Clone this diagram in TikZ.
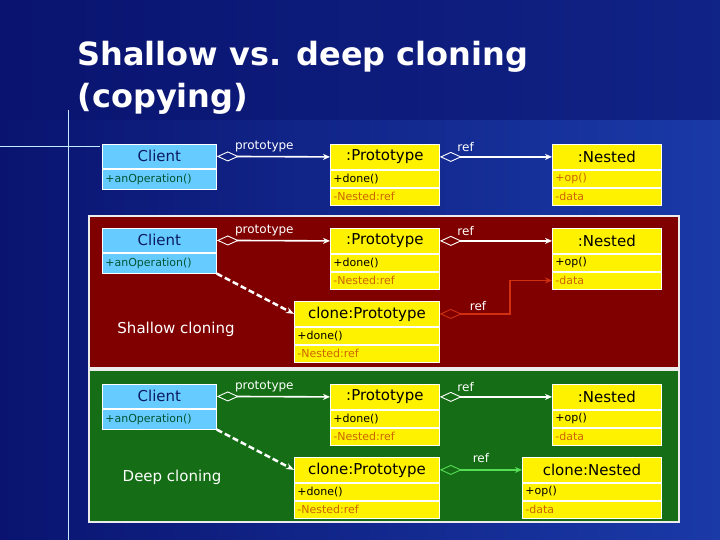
\documentclass[tikz,border=0pt]{standalone}
\usepackage{fontspec}
\setmainfont{DejaVu Sans}
\usetikzlibrary{arrows.meta,positioning,calc}
\definecolor{bgdark}{HTML}{0A1470}
\definecolor{bglight}{HTML}{1A3AA8}
\definecolor{clientblue}{HTML}{66CCFF}
\definecolor{namecol}{HTML}{0A1A60}
\definecolor{opgreen}{HTML}{005533}
\definecolor{attrorange}{HTML}{CC6600}
\definecolor{shallowred}{HTML}{800000}
\definecolor{deepgreen}{HTML}{156E15}
\definecolor{refred}{HTML}{D03010}
\definecolor{refgreen}{HTML}{55DD55}
\tikzset{
  cname/.style={draw=white, line width=0.8pt, fill=yellow, minimum width=109pt,
    minimum height=25pt, inner sep=0pt, text=black, font=\fontsize{15}{15}\selectfont},
  crow/.style={draw=white, line width=0.8pt, fill=yellow, minimum width=109pt,
    text width=103pt, minimum height=17pt, inner sep=0pt, align=left,
    font=\fontsize{11}{11}\selectfont},
  clname/.style={cname, fill=clientblue, minimum width=114pt, minimum height=24pt, text=namecol},
  clrow/.style={crow, fill=clientblue, minimum width=114pt, text width=108pt,
    minimum height=20pt, text=opgreen},
  assoc/.style={draw=white, line width=1.6pt, {Diamond[open,length=22pt,width=10pt,line width=0.9pt]}-{Stealth[length=7pt,width=6pt]}},
  clonearrow/.style={draw=white, line width=2.5pt, dash pattern=on 6pt off 3pt, -{Stealth[length=8pt]}},
  panel/.style={draw=white!85!gray, line width=1.5pt},
  lbl/.style={text=white, font=\fontsize{12}{12}\selectfont, inner sep=1pt},
  caption/.style={text=white, font=\fontsize{15}{15}\selectfont}
}
\begin{document}
\begin{tikzpicture}[x=1pt,y=-1pt]
\useasboundingbox (0,0) rectangle (720,540);
% background and decoration
\shade[left color=bgdark, right color=bglight] (0,0) rectangle (720,540);
\fill[bgdark, opacity=0.6] (0,0) rectangle (720,120);
\draw[white!60!clientblue, line width=1pt] (0,147) -- (100,147);
\draw[white!60!clientblue, line width=1pt] (68,110) -- (68,540);
\node[anchor=north west, text=white, align=left, font=\fontsize{32}{42}\selectfont\bfseries]
  (title) at (74,38) {Shallow vs. deep cloning\\(copying)};

% --- panels ---
\filldraw[panel, fill=shallowred] (89,216) rectangle (679,368);
\filldraw[panel, fill=deepgreen] (89,370) rectangle (679,522);

% --- row 1: plain prototype ---
\node[clname, anchor=north west] (c1) at (102,144) {Client};
\node[clrow, below=0pt of c1] (c1a) {+anOperation()};
\node[cname, anchor=north west] (p1) at (330,144) {:Prototype};
\node[crow, below=0pt of p1] (p1a) {+done()};
\node[crow, below=0pt of p1a, text=attrorange] (p1b) {-Nested:ref};
\node[cname, anchor=north west] (n1) at (552,144) {:Nested};
\node[crow, below=0pt of n1, text=attrorange] (n1a) {+op()};
\node[crow, below=0pt of n1a, text=attrorange] (n1b) {-data};
\draw[assoc] (c1.east) -- node[lbl, above=3pt, pos=0.42] {prototype} (p1.west);
\draw[assoc] (p1.east) -- node[lbl, above=3pt, pos=0.23] {ref} (n1.west);

% --- row 2: shallow cloning ---
\node[clname, anchor=north west] (c2) at (102,228) {Client};
\node[clrow, below=0pt of c2] (c2a) {+anOperation()};
\node[cname, anchor=north west] (p2) at (330,228) {:Prototype};
\node[crow, below=0pt of p2] (p2a) {+done()};
\node[crow, below=0pt of p2a, text=attrorange] (p2b) {-Nested:ref};
\node[cname, anchor=north west] (n2) at (552,228) {:Nested};
\node[crow, below=0pt of n2] (n2a) {+op()};
\node[crow, below=0pt of n2a, text=attrorange] (n2b) {-data};
\node[cname, anchor=north west, minimum width=145pt] (cp2) at (294,301) {clone:Prototype};
\node[crow, below=0pt of cp2, minimum width=145pt, text width=139pt] (cp2a) {+done()};
\node[crow, below=0pt of cp2a, minimum width=145pt, text width=139pt, text=attrorange] (cp2b) {-Nested:ref};
\node[caption] (shallow) at (176,329) {Shallow cloning};
\coordinate (bend2) at (510,0);
\draw[assoc] (c2.east) -- node[lbl, above=3pt, pos=0.42] {prototype} (p2.west);
\draw[assoc] (p2.east) -- node[lbl, above=3pt, pos=0.23] {ref} (n2.west);
\draw[assoc, draw=refred] (cp2.east) -| (bend2 |- n2b.west) -- (n2b.west);
\node[lbl] (ref2) at (478,306) {ref};
\draw[clonearrow] (c2a.south east) -- (cp2.west);

% --- row 3: deep cloning ---
\node[clname, anchor=north west] (c3) at (102,384) {Client};
\node[clrow, below=0pt of c3] (c3a) {+anOperation()};
\node[cname, anchor=north west] (p3) at (330,384) {:Prototype};
\node[crow, below=0pt of p3] (p3a) {+done()};
\node[crow, below=0pt of p3a, text=attrorange] (p3b) {-Nested:ref};
\node[cname, anchor=north west] (n3) at (552,384) {:Nested};
\node[crow, below=0pt of n3] (n3a) {+op()};
\node[crow, below=0pt of n3a, text=attrorange] (n3b) {-data};
\node[cname, anchor=north west, minimum width=145pt] (cp3) at (294,457) {clone:Prototype};
\node[crow, below=0pt of cp3, minimum width=145pt, text width=139pt] (cp3a) {+done()};
\node[crow, below=0pt of cp3a, minimum width=145pt, text width=139pt, text=attrorange] (cp3b) {-Nested:ref};
\node[cname, anchor=north west, minimum width=139pt] (cn3) at (522,457) {clone:Nested};
\node[crow, below=0pt of cn3, minimum width=139pt, text width=133pt] (cn3a) {+op()};
\node[crow, below=0pt of cn3a, minimum width=139pt, text width=133pt, text=attrorange] (cn3b) {-data};
\node[caption] (deep) at (172,477) {Deep cloning};
\draw[assoc] (c3.east) -- node[lbl, above=3pt, pos=0.42] {prototype} (p3.west);
\draw[assoc] (p3.east) -- node[lbl, above=3pt, pos=0.23] {ref} (n3.west);
\draw[assoc, draw=refgreen] (cp3.east) -- node[lbl, above=5pt, pos=0.5] {ref} (cn3.west);
\draw[clonearrow] (c3a.south east) -- (cp3.west);
\end{tikzpicture}
\end{document}
